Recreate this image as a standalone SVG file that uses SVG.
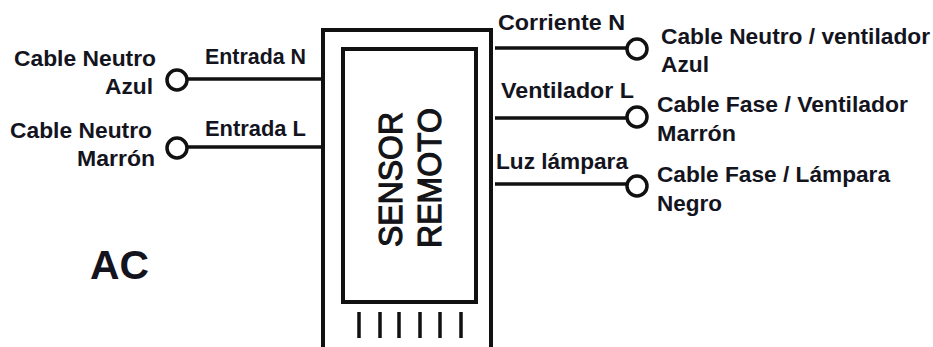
<svg xmlns="http://www.w3.org/2000/svg" width="933" height="347" viewBox="0 0 933 347">
<style>
text{font-family:"Liberation Sans",Arial,sans-serif;font-weight:bold;fill:#14141e;font-size:22px}
.box{fill:none;stroke:#111;stroke-width:4}
.wire{fill:none;stroke:#111;stroke-width:3.5}
.pin{fill:none;stroke:#111;stroke-width:3.5}
.term{fill:#fff;stroke:#111;stroke-width:3.5}
.big{font-weight:normal;font-size:33px;stroke:#111;stroke-width:1.1}
</style>
<rect width="933" height="347" fill="#fff"/>
<g id="sensor">
<path class="box" d="M323 347V30H491V347"/>
<rect class="box" x="343" y="49" width="133" height="253"/>
<text class="big" transform="translate(402 247) rotate(-90)" textLength="135" lengthAdjust="spacingAndGlyphs">SENSOR</text>
<text class="big" transform="translate(441 248) rotate(-90)" textLength="140" lengthAdjust="spacingAndGlyphs">REMOTO</text>
<path class="pin" d="M359 312V338M380 312V338M399 312V338M420 312V338M440 312V338M461 312V338"/>
</g>
<g id="connectors">
<path class="wire" d="M188 79H323M188 147H323M495 48H626M495 118H626M495 184H626"/>
</g>
<g id="in-n"><circle class="term" cx="177" cy="80" r="10"/><text x="205" y="64" textLength="101" lengthAdjust="spacingAndGlyphs">Entrada N</text><text x="14" y="66" textLength="142" lengthAdjust="spacingAndGlyphs">Cable Neutro</text><text x="105" y="94" textLength="48" lengthAdjust="spacingAndGlyphs">Azul</text></g>
<g id="in-l"><circle class="term" cx="177" cy="148" r="10"/><text x="205" y="136" textLength="101" lengthAdjust="spacingAndGlyphs">Entrada L</text><text x="10" y="138" textLength="142" lengthAdjust="spacingAndGlyphs">Cable Neutro</text><text x="77" y="166" textLength="78" lengthAdjust="spacingAndGlyphs">Marrón</text></g>
<g id="out-n"><circle class="term" cx="637" cy="49" r="10"/><text x="498" y="30" textLength="127" lengthAdjust="spacingAndGlyphs">Corriente N</text><text x="661" y="44" textLength="269" lengthAdjust="spacingAndGlyphs">Cable Neutro / ventilador</text><text x="661" y="72" textLength="48" lengthAdjust="spacingAndGlyphs">Azul</text></g>
<g id="out-v"><circle class="term" cx="637" cy="117" r="10"/><text x="501" y="98" textLength="133" lengthAdjust="spacingAndGlyphs">Ventilador L</text><text x="657" y="112" textLength="251" lengthAdjust="spacingAndGlyphs">Cable Fase / Ventilador</text><text x="657" y="141" textLength="79" lengthAdjust="spacingAndGlyphs">Marrón</text></g>
<g id="out-l"><circle class="term" cx="637" cy="186" r="10"/><text x="496" y="169" textLength="132" lengthAdjust="spacingAndGlyphs">Luz lámpara</text><text x="657" y="182" textLength="233" lengthAdjust="spacingAndGlyphs">Cable Fase / Lámpara</text><text x="657" y="211" textLength="65" lengthAdjust="spacingAndGlyphs">Negro</text></g>
<text id="ac" x="90" y="279" style="font-size:41px" textLength="59" lengthAdjust="spacingAndGlyphs">AC</text>
</svg>
